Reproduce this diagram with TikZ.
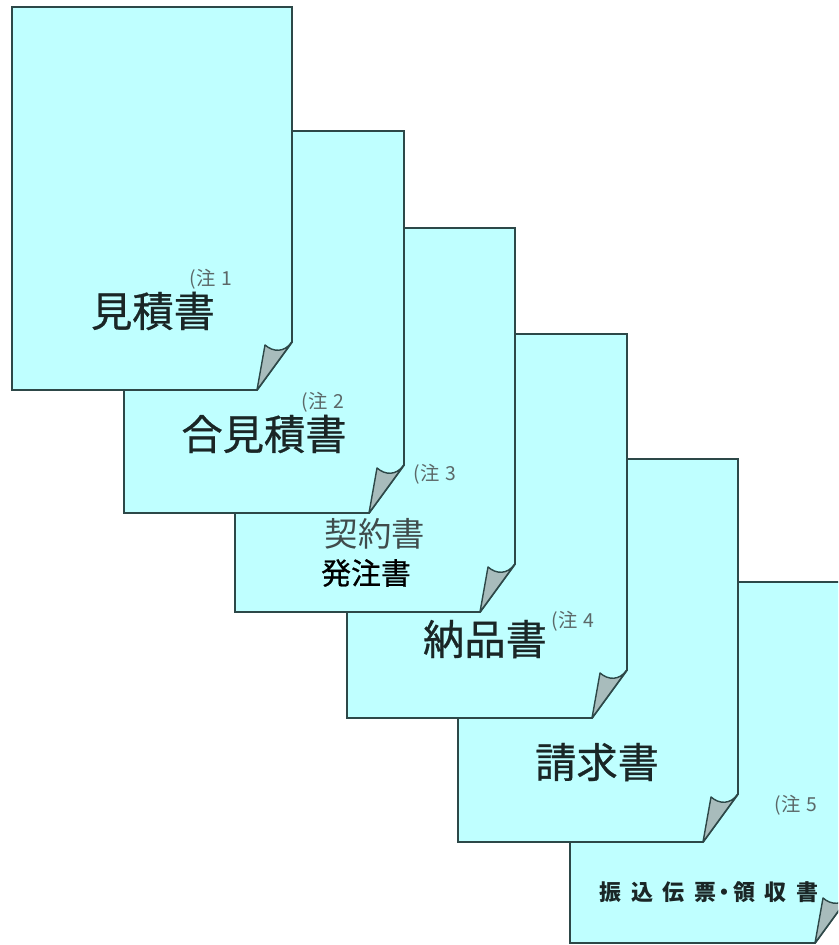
\documentclass[tikz,border=0pt]{standalone}
\usepackage{fontspec}
\usepackage{xcolor}
\usepackage{tikz}
\usetikzlibrary{calc}
\newfontfamily\jp{Noto Sans CJK JP}
\newfontfamily\jpheavy[FakeBold=0.7]{Noto Sans CJK JP}
\definecolor{sheetfill}{HTML}{BFFFFF}
\definecolor{edge}{HTML}{2D4848}
\definecolor{curlfill}{HTML}{A8BCBC}
\definecolor{ink}{HTML}{1A2626}
\definecolor{soft}{HTML}{404C4C}
\definecolor{muted}{HTML}{5C6868}
\tikzset{
  sheet/.style={fill=sheetfill, draw=edge, line width=1.1pt, line join=miter},
  curlfold/.style={fill=curlfill, draw=edge, line width=0.8pt, line join=round},
  title/.style={text=ink, inner sep=0pt, font=\jpheavy\fontsize{23.5}{26}\selectfont},
  subtitle/.style={inner sep=0pt, font=\jp\fontsize{19}{22}\selectfont},
  notelbl/.style={text=muted, inner sep=0pt, font=\jp\fontsize{11}{12}\selectfont}
}

\begin{document}
\begin{tikzpicture}[x=0.02cm, y=-0.02cm]
  \useasboundingbox (0,0) rectangle (838,945);
  \clip (0,0) rectangle (838,945);

  % sheets, back to front
  \foreach \px/\py/\ph in {570/582/361, 458/459/383, 347/334/384, 235/228/384, 124/131/382, 12/7/383} {
    \draw[sheet] (\px,\py) -- ++(280,0) -- ++(0,\ph-48) -- ++(-35,48) -- ++(-245,0) -- cycle;
    \draw[curlfold] (\px+280,\py+\ph-48)
      .. controls (\px+272,\py+\ph-37) and (\px+261,\py+\ph-38) .. (\px+253,\py+\ph-45)
      -- (\px+245,\py+\ph) -- cycle;
  }

  \node[title] (mitsumori) at (153,311) {見積書};
  \node[notelbl] (note1) at (211,279) {(注\hspace{3.5pt}1};

  \node[title] (aimitsumori) at (264,434) {合見積書};
  \node[notelbl] (note2) at (323,402) {(注\hspace{3.5pt}2};

  \node[subtitle, text=soft] (keiyaku) at (375,534) {契約書};
  \node[subtitle, text=black, font=\jpheavy\fontsize{17}{20}\selectfont] (hacchu) at (366,573) {発注書};
  \node[notelbl] (note3) at (435,474) {(注\hspace{3.5pt}3};

  \node[title] (nohin) at (485,639) {納品書};
  \node[notelbl] (note4) at (573,621) {(注\hspace{3.5pt}4};

  \node[title] (seikyu) at (597,762) {請求書};
  \node[notelbl] (note5) at (796,805) {(注\hspace{3.5pt}5};

  \node[text=ink, inner sep=0pt, font=\jp\bfseries\fontsize{12.5}{14}\selectfont] (furikomi) at (709,892)
    {振\hspace{5.5pt}込\hspace{5.5pt}伝\hspace{5.5pt}票\hspace{-1.5pt}・\hspace{-1.5pt}領\hspace{5.5pt}収\hspace{5.5pt}書};
\end{tikzpicture}
\end{document}
